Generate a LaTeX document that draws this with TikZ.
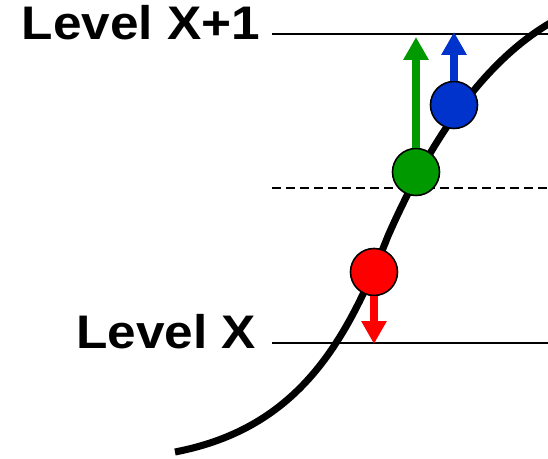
\documentclass[tikz,border=0pt]{standalone}
\usepackage{fontspec}
\setmainfont{Liberation Sans}
\usetikzlibrary{arrows.meta,positioning}
\definecolor{pred}{RGB}{255,0,0}
\definecolor{pgreen}{RGB}{0,153,0}
\definecolor{pblue}{RGB}{0,51,204}
\tikzstyle{level} = [line width=0.6pt]
\tikzstyle{lvltext} = [font=\fontsize{13.4}{15}\selectfont\bfseries, inner sep=0pt, xscale=1.09, anchor=base east]
\tikzstyle{ball} = [circle, draw, line width=0.45pt, minimum size=0.47cm, inner sep=0pt]
\tikzstyle{push} = [line width=2.3pt, -{Triangle[width=6.8pt,length=6.5pt]}]

\begin{document}
\begin{tikzpicture}[x=0.01cm, y=-0.01cm]
    \useasboundingbox (0,0) rectangle (548,459);
    % energy levels
    \coordinate (topL) at (272,34);  \coordinate (topR) at (548,34);
    \coordinate (midL) at (272,188); \coordinate (midR) at (548,188);
    \coordinate (botL) at (272,343); \coordinate (botR) at (548,343);
    \draw[level] (topL) -- (topR);
    \draw[level, dash pattern=on 2.56pt off 1.42pt] (midL) -- (midR);
    \draw[level] (botL) -- (botR);
    \node[lvltext] (lvltop) at (261,40) {Level X+1};
    \node[lvltext] (lvlbot) at (257,349) {Level X};
    % transition curve
    \coordinate (cstart) at (175,452);
    \coordinate (cmid) at (388,236);
    \coordinate (cend) at (552,22);
    \draw[line width=2pt] (cstart) .. controls (300,428) and (347,340) .. (cmid)
        .. controls (428,145) and (482,62) .. (cend);
    % particles
    \node[ball, fill=pred] (red) at (374,272) {};
    \node[ball, fill=pgreen] (green) at (416,172) {};
    \node[ball, fill=pblue] (blue) at (454,105) {};
    \coordinate (redtip) at (374,344);
    \coordinate (greentip) at (416,37);
    \coordinate (bluetip) at (454,32);
    \draw[push, pred] (red.south) -- (redtip);
    \draw[push, pgreen] (green.north) -- (greentip);
    \draw[push, pblue] (blue.north) -- (bluetip);
\end{tikzpicture}
\end{document}
